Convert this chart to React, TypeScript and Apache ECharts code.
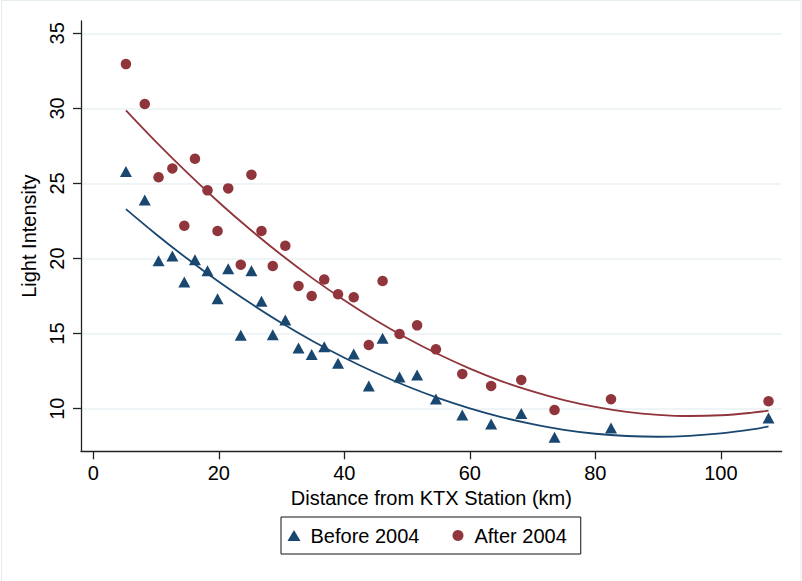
import React, { useEffect, useRef } from "react";
import * as echarts from "echarts";

// Distance from KTX station (km) for each observed area
const distanceKm = [
  5.2, 8.2, 10.4, 12.6, 14.5, 16.2, 18.2, 19.8, 21.5, 23.5,
  25.2, 26.8, 28.6, 30.6, 32.7, 34.8, 36.8, 39.0, 41.5, 43.9,
  46.1, 48.8, 51.6, 54.6, 58.8, 63.4, 68.2, 73.5, 82.5, 107.6,
];

// Light intensity before 2004
const before2004 = [
  25.8, 23.9, 19.85, 20.17, 18.44, 19.92, 19.19, 17.32, 19.32, 14.89,
  19.19, 17.15, 14.93, 15.9, 14.04, 13.6, 14.13, 13.02, 13.64, 11.51,
  14.69, 12.11, 12.24, 10.65, 9.58, 8.98, 9.67, 8.1, 8.72, 9.38,
];

// Light intensity after 2004
const after2004 = [
  32.95, 30.29, 25.41, 26.0, 22.18, 26.64, 24.54, 21.83, 24.67, 19.59,
  25.58, 21.83, 19.5, 20.85, 18.17, 17.5, 18.6, 17.62, 17.42, 14.24,
  18.5, 14.97, 15.55, 13.95, 12.31, 11.51, 11.91, 9.91, 10.63, 10.49,
];

// Quadratic fit curves
const fitX = [5.2, 10, 15, 20, 25, 30, 35, 40, 45, 50, 55, 60, 65, 70, 75, 80, 85, 90, 95, 100, 105, 107.6];
const beforeFit = [
  23.29, 21.62, 19.98, 18.45, 17.03, 15.7, 14.49, 13.39, 12.39, 11.49, 10.7,
  10.02, 9.44, 8.97, 8.59, 8.33, 8.18, 8.13, 8.19, 8.35, 8.62, 8.82,
];
const afterFit = [
  29.87, 27.77, 25.7, 23.75, 21.93, 20.23, 18.66, 17.22, 15.89, 14.69, 13.62,
  12.67, 11.84, 11.15, 10.57, 10.12, 9.79, 9.59, 9.51, 9.56, 9.73, 9.87,
];

const xTicks = [0, 20, 40, 60, 80, 100];
const yTicks = [10, 15, 20, 25, 30, 35];

const NAVY = "#1a476f";
const MAROON = "#90353b";
const FONT = "'Liberation Sans', Arial, Helvetica, sans-serif";

export default function App() {
  const ref = useRef<HTMLDivElement>(null);
  useEffect(() => {
    if (!ref.current) return;
    const chart = echarts.init(ref.current, null, { renderer: "svg" });
    const beforePts = distanceKm.map((d, i) => [d, before2004[i]]);
    const afterPts = distanceKm.map((d, i) => [d, after2004[i]]);
    const beforeFitPts = fitX.map((x, i) => [x, beforeFit[i]]);
    const afterFitPts = fitX.map((x, i) => [x, afterFit[i]]);
    chart.setOption({
      animation: false,
      backgroundColor: "#ffffff",
      textStyle: { fontFamily: FONT },
      grid: { left: 81, top: 21, width: 700.7, height: 430.3, containLabel: false },
      xAxis: {
        type: "value",
        min: -1.96,
        max: 109.7,
        name: "Distance from KTX Station (km)",
        nameLocation: "middle",
        nameGap: 33,
        nameTextStyle: { fontSize: 20, color: "#000", fontFamily: FONT },
        axisLine: { show: true, onZero: false, lineStyle: { color: "#222", width: 1.3 } },
        axisTick: { show: true, customValues: xTicks, length: 8, lineStyle: { color: "#222", width: 1.3 } },
        axisLabel: { customValues: xTicks, margin: 12, fontSize: 20, color: "#000", fontFamily: FONT },
        splitLine: { show: false },
      },
      yAxis: {
        type: "value",
        min: 7.16,
        max: 35.82,
        name: "Light Intensity",
        nameLocation: "middle",
        nameGap: 37,
        nameTextStyle: { fontSize: 20, color: "#000", fontFamily: FONT },
        axisLine: { show: true, onZero: false, lineStyle: { color: "#222", width: 1.3 } },
        axisTick: { show: true, customValues: yTicks, length: 8, lineStyle: { color: "#222", width: 1.3 } },
        axisLabel: { customValues: yTicks, rotate: 90, margin: 14, fontSize: 20, color: "#000", fontFamily: FONT },
        splitLine: { show: true, lineStyle: { color: "#eaf2f3", width: 1.5 } },
      },
      legend: {
        left: 281,
        top: 517,
        orient: "horizontal",
        data: ["Before 2004", "After 2004"],
        padding: [8.5, 14, 8.5, 6.5],
        itemWidth: 13,
        itemHeight: 11,
        itemGap: 33,
        borderColor: "#111",
        borderWidth: 1,
        backgroundColor: "#fff",
        textStyle: { fontSize: 20, color: "#000", fontFamily: FONT, padding: [0, 0, 0, 5] },
      },
      graphic: [
        { type: "line", shape: { x1: 1.5, y1: 0, x2: 1.5, y2: 581 }, style: { stroke: "#e4ecee", lineWidth: 1 } },
        { type: "line", shape: { x1: 1.5, y1: 0.5, x2: 801, y2: 0.5 }, style: { stroke: "#e4ecee", lineWidth: 1 } },
        { type: "line", shape: { x1: 801, y1: 0, x2: 801, y2: 581 }, style: { stroke: "#e4ecee", lineWidth: 1 } },
      ],
      series: [
        {
          name: "Before 2004",
          type: "scatter",
          symbol: "triangle",
          symbolSize: [12, 11],
          itemStyle: { color: NAVY, opacity: 1 },
          data: beforePts,
          z: 3,
        },
        {
          name: "After 2004",
          type: "scatter",
          symbol: "circle",
          symbolSize: 10.5,
          itemStyle: { color: MAROON, opacity: 1 },
          data: afterPts,
          z: 3,
        },
        {
          name: "Before fit",
          type: "line",
          smooth: 0.4,
          showSymbol: false,
          silent: true,
          lineStyle: { color: NAVY, width: 1.8 },
          data: beforeFitPts,
          z: 2,
        },
        {
          name: "After fit",
          type: "line",
          smooth: 0.4,
          showSymbol: false,
          silent: true,
          lineStyle: { color: MAROON, width: 1.8 },
          data: afterFitPts,
          z: 2,
        },
      ],
    });
    return () => chart.dispose();
  }, []);
  return (
    <div
      ref={ref}
      style={{ position: "absolute", left: 0, top: 0, width: 802, height: 581 }}
    />
  );
}
